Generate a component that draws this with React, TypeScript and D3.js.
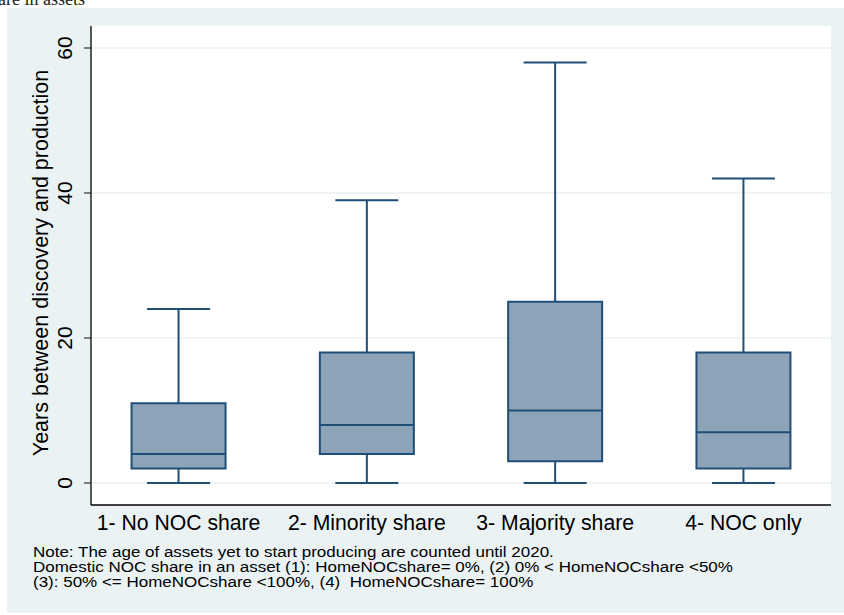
import React from "react";
import * as d3 from "d3";

const categories = ["1- No NOC share", "2- Minority share", "3- Majority share", "4- NOC only"];
const whiskerLow = [0, 0, 0, 0];
const q1 = [2, 4, 3, 2];
const median = [4, 8, 10, 7];
const q3 = [11, 18, 25, 18];
const whiskerHigh = [24, 39, 58, 42];
const yTicks = [0, 20, 40, 60];
const yTitle = "Years between discovery and production";
const notes = [
  "Note: The age of assets yet to start producing are counted until 2020.",
  "Domestic NOC share in an asset (1): HomeNOCshare= 0%, (2) 0% < HomeNOCshare <50%",
  "(3): 50% <= HomeNOCshare <100%, (4)  HomeNOCshare= 100%",
];

const W = 844;
const H = 615;
const plot = { left: 91, right: 831, top: 26, bottom: 505 };
const bg = "#eaf2f3";
const fill = "#8da4b8";
const stroke = "#1f4e79";
const font = "'Liberation Sans', Arial, sans-serif";

export default function App() {
  const x = d3.scalePoint<string>().domain(categories).range([plot.left, plot.right]).padding(0.465);
  const y = d3.scaleLinear().domain([0, 60]).range([483, 48]);
  const boxW = 94;
  const capW = 63;

  return (
    <svg width={W} height={H} style={{ position: "absolute", left: 0, top: 0 }}>
      <rect x={0} y={0} width={W} height={H} fill="white" />
      <text x={-2} y={5} fontFamily="'Liberation Serif', serif" fontSize={18} fill="#222">are in assets</text>
      <rect x={7} y={8} width={W - 7} height={605} fill={bg} />
      <rect x={plot.left} y={plot.top} width={plot.right - plot.left} height={plot.bottom - plot.top} fill="white" />
      {yTicks.map((t) => (
        <g key={t}>
          <line x1={plot.left} x2={plot.right} y1={y(t)} y2={y(t)} stroke={bg} strokeWidth={1.5} />
          <line x1={84} x2={plot.left} y1={y(t)} y2={y(t)} stroke="#333" strokeWidth={1.2} />
          <text
            transform={`translate(${72},${y(t)}) rotate(-90)`}
            textAnchor="middle"
            fontFamily={font}
            fontSize={21}
            fill="#000"
          >
            {t}
          </text>
        </g>
      ))}
      <line x1={plot.left} x2={plot.left} y1={plot.top} y2={plot.bottom} stroke="#000" strokeWidth={1.3} />
      <line x1={plot.left} x2={plot.right} y1={plot.bottom} y2={plot.bottom} stroke="#000" strokeWidth={1.3} />
      <text
        transform={`translate(${48},${263}) rotate(-90)`}
        textAnchor="middle"
        fontFamily={font}
        fontSize={21.5}
        fill="#000"
      >
        {yTitle}
      </text>
      {categories.map((c, i) => {
        const cx = x(c)!;
        return (
          <g key={c}>
            <line x1={cx} x2={cx} y1={y(q3[i])} y2={y(whiskerHigh[i])} stroke={stroke} strokeWidth={2} />
            <line x1={cx} x2={cx} y1={y(q1[i])} y2={y(whiskerLow[i])} stroke={stroke} strokeWidth={2} />
            <line x1={cx - capW / 2} x2={cx + capW / 2} y1={y(whiskerHigh[i])} y2={y(whiskerHigh[i])} stroke={stroke} strokeWidth={2} />
            <line x1={cx - capW / 2} x2={cx + capW / 2} y1={y(whiskerLow[i])} y2={y(whiskerLow[i])} stroke={stroke} strokeWidth={2} />
            <rect
              x={cx - boxW / 2}
              y={y(q3[i])}
              width={boxW}
              height={y(q1[i]) - y(q3[i])}
              fill={fill}
              stroke={stroke}
              strokeWidth={2}
            />
            <line x1={cx - boxW / 2} x2={cx + boxW / 2} y1={y(median[i])} y2={y(median[i])} stroke={stroke} strokeWidth={2} />
            <text x={cx} y={530} textAnchor="middle" fontFamily={font} fontSize={21.2} fill="#000">
              {c}
            </text>
          </g>
        );
      })}
      {notes.map((n, i) => (
        <text
          key={i}
          transform={`translate(33,${556.7 + i * 15}) scale(1.097,1)`}
          fontFamily={font}
          fontSize={15.5}
          fill="#000"
          style={{ whiteSpace: "pre" }}
        >
          {n}
        </text>
      ))}
    </svg>
  );
}
